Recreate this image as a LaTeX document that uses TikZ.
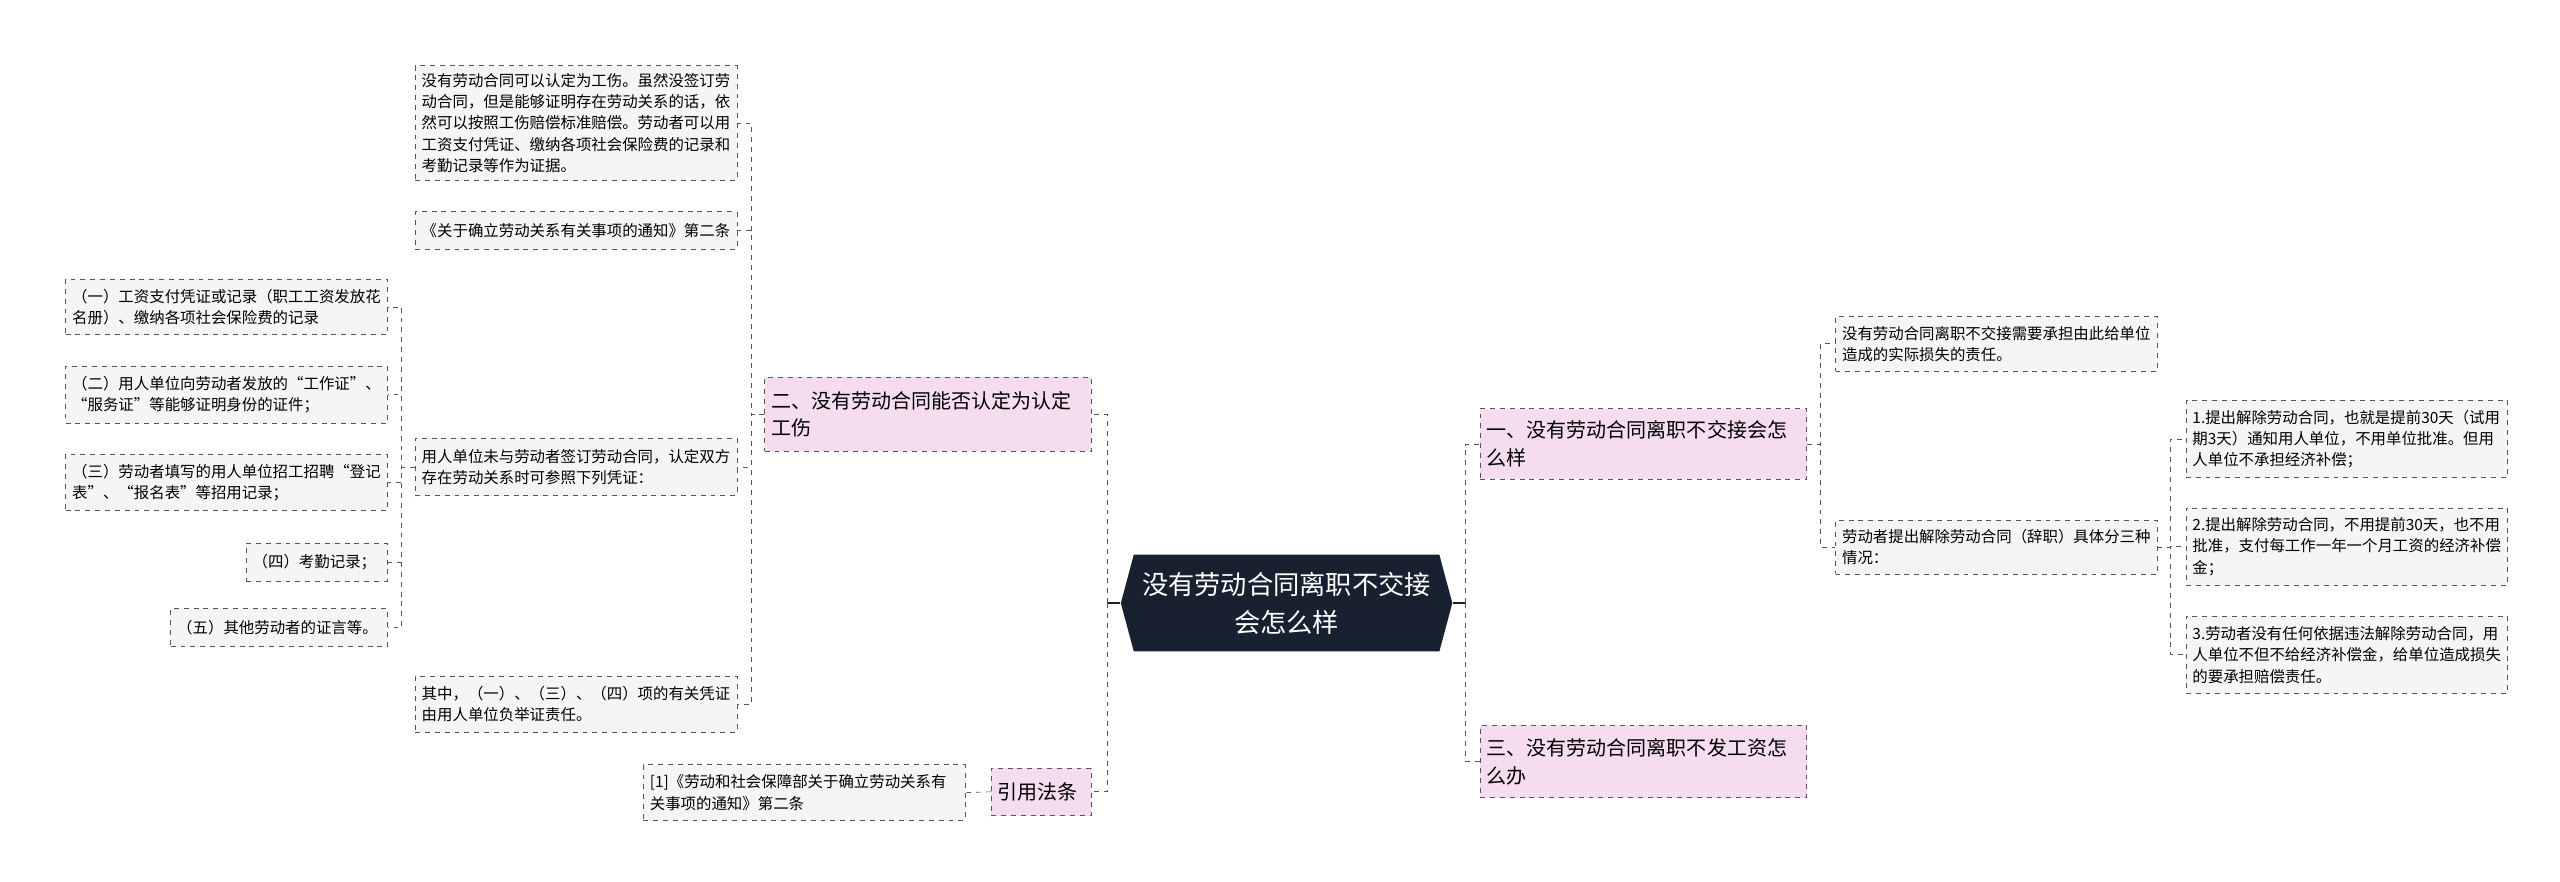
\documentclass[tikz,border=0pt]{standalone}
\usepackage{fontspec}
\setmainfont{Noto Sans CJK SC}
\usetikzlibrary{shapes.symbols}
\definecolor{rootfill}{HTML}{17212F}
\definecolor{midfill}{HTML}{F5DCEF}
\definecolor{leaffill}{HTML}{F5F5F5}
\definecolor{linecol}{HTML}{555555}
\tikzset{
  rootnode/.style={shape=signal, signal to=west and east, signal pointer angle=150, fill=rootfill, text=white, align=center, minimum width=202pt, minimum height=59pt, inner sep=2pt, font=\fontsize{16pt}{23pt}\selectfont},
  midnode/.style={draw=linecol, dashed, fill=midfill, align=left, text width=191pt, inner sep=4pt, font=\fontsize{12.2pt}{17pt}\selectfont},
  leafnode/.style={draw=linecol, dashed, fill=leaffill, align=left, text width=188pt, inner sep=4pt, font=\fontsize{9.4pt}{13pt}\selectfont},
  shortleaf/.style={leafnode, text width=#1},
  link/.style={draw=linecol, dashed, thin},
}
\begin{document}
\begin{tikzpicture}[x=1pt, y=-1pt]
	\useasboundingbox (0,0) rectangle (1560,537);
	% root
	\node[rootnode] (root) at (784,367.5) {没有劳动合同离职不交接\\会怎么样};
	% right side
	\node[midnode, minimum height=43pt] (one) at (1001.5,270.5) {一、没有劳动合同离职不交接会怎\\么样};
	\node[midnode, minimum height=44pt] (three) at (1001.5,464) {三、没有劳动合同离职不发工资怎\\么办};
	\node[leafnode, minimum height=33pt] (loss) at (1216.5,209.5) {没有劳动合同离职不交接需要承担由此给单位\\造成的实际损失的责任。};
	\node[leafnode, minimum height=33pt] (quit) at (1216.5,333.5) {劳动者提出解除劳动合同（辞职）具体分三种\\情况：};
	\node[leafnode, minimum height=47pt] (caseA) at (1430,267.5) {1.提出解除劳动合同，也就是提前30天（试用\\期3天）通知用人单位，不用单位批准。但用\\人单位不承担经济补偿；};
	\node[leafnode, minimum height=47pt] (caseB) at (1430,333) {2.提出解除劳动合同，不用提前30天，也不用\\批准，支付每工作一年一个月工资的经济补偿\\金；};
	\node[leafnode, minimum height=47pt] (caseC) at (1430,399) {3.劳动者没有任何依据违法解除劳动合同，用\\人单位不但不给经济补偿金，给单位造成损失\\的要承担赔偿责任。};
	% left side
	\node[midnode, minimum height=45pt] (two) at (565.5,252.5) {二、没有劳动合同能否认定为认定\\工伤};
	\node[midnode, text width=53pt, minimum height=29pt] (law) at (634.5,482.5) {引用法条};
	\node[leafnode, minimum height=34pt] (lawref) at (490,483) {[1]《劳动和社会保障部关于确立劳动关系有\\关事项的通知》第二条};
	\node[leafnode, minimum height=70pt] (injury) at (351,75) {没有劳动合同可以认定为工伤。虽然没签订劳\\动合同，但是能够证明存在劳动关系的话，依\\然可以按照工伤赔偿标准赔偿。劳动者可以用\\工资支付凭证、缴纳各项社会保险费的记录和\\考勤记录等作为证据。};
	\node[leafnode, minimum height=23pt] (notice) at (351,140.5) {《关于确立劳动关系有关事项的通知》第二条};
	\node[leafnode, minimum height=35pt] (proof) at (351,284.5) {用人单位未与劳动者签订劳动合同，认定双方\\存在劳动关系时可参照下列凭证：};
	\node[leafnode, minimum height=34pt] (burden) at (351,429) {其中，（一）、（三）、（四）项的有关凭证\\由用人单位负举证责任。};
	\node[leafnode, minimum height=34pt] (itemA) at (138,187) {（一）工资支付凭证或记录（职工工资发放花\\名册）、缴纳各项社会保险费的记录};
	\node[leafnode, minimum height=35pt] (itemB) at (138,240.5) {（二）用人单位向劳动者发放的“工作证”、\\“服务证”等能够证明身份的证件；};
	\node[leafnode, minimum height=34pt] (itemC) at (138,294) {（三）劳动者填写的用人单位招工招聘“登记\\表”、“报名表”等招用记录；};
	\node[shortleaf=78pt, minimum height=23pt] (itemD) at (193,342.5) {（四）考勤记录；};
	\node[shortleaf=124pt, minimum height=23pt] (itemE) at (170,382.5) {（五）其他劳动者的证言等。};
	% connectors
	\draw[draw=rootfill, thick] (root.east) -- ++(8,0) coordinate (rr);
	\draw[draw=rootfill, thick] (root.west) -- ++(-8,0) coordinate (rl);
	\foreach \c in {one,three}
		\draw[link] (rr) |- (\c.west);
	\foreach \c in {two,law}
		\draw[link] (rl) |- (\c.east);
	\foreach \c in {loss,quit}
		\draw[link] (one.east) -- ++(8,0) |- (\c.west);
	\foreach \c in {caseA,caseB,caseC}
		\draw[link] (quit.east) -- ++(8,0) |- (\c.west);
	\foreach \c in {injury,notice,proof,burden}
		\draw[link] (two.west) -- ++(-8,0) |- (\c.east);
	\foreach \c in {itemA,itemB,itemC,itemD,itemE}
		\draw[link] (proof.west) -- ++(-8,0) |- (\c.east);
	\draw[link] (law.west) -- (lawref.east);
\end{tikzpicture}
\end{document}
